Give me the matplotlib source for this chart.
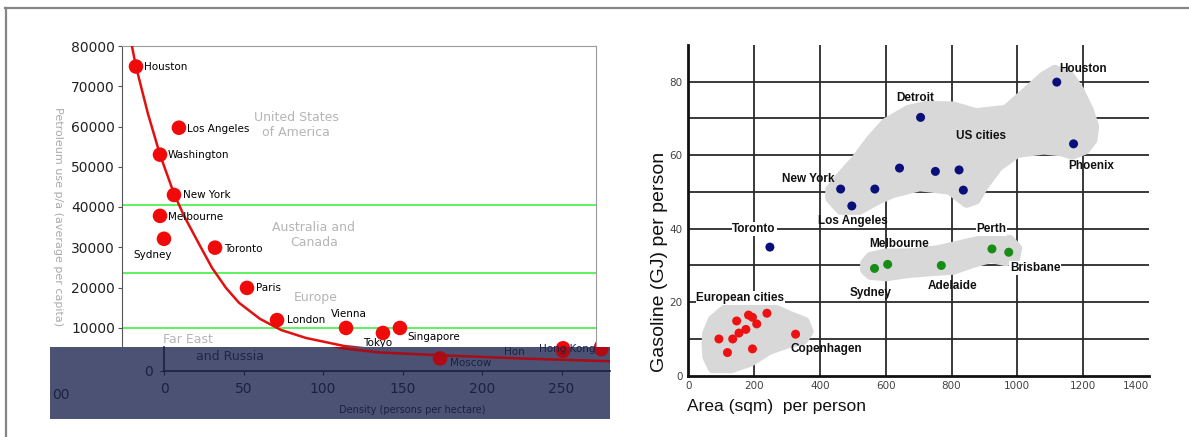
import matplotlib
matplotlib.use("Agg")
import matplotlib.pyplot as plt
from matplotlib.patches import Polygon
from matplotlib.lines import Line2D

W, H = 1189, 437

# ---- left chart: density vs petroleum use ----
city_names = ["Houston", "Los Angeles", "Washington", "New York", "Melbourne", "Sydney",
              "Toronto", "Paris", "London", "Vienna", "Tokyo", "Singapore", "Moscow"]
density = [-17.6, 9.4, -2.5, 6.3, -2.5, 0.0, 32.1, 52.2, 71.1, 114.5, 137.7, 148.4, 173.6]
petrol = [74900, 59700, 53000, 43000, 37800, 32100, 29900, 19900, 11900, 9950, 8700, 9950, 3000]

hk_names = ["Hon", "Hong Kong"]
hk_density = [251, 275]
hk_petrol = [4900, 5300]

# fitted trend line
curve_x = [-20.1, -17.6, -10.1, -2.5, 6.3, 12.6, 22.0, 30.2, 39.0, 47.2, 60.4, 73.6, 89.3,
           113.2, 135.8, 173.6, 223.9, 280.5]
curve_y = [79850, 74900, 63200, 53000, 43300, 37800, 30850, 24900, 19900, 16200, 12200, 9450,
           7460, 5470, 4480, 3800, 3000, 2300]

band_lines = [40500, 23500, 10000]
left_yticks = [0, 10000, 20000, 30000, 40000, 50000, 60000, 70000, 80000]
left_xticks = [0, 50, 100, 150, 200, 250]

# ---- right chart: area vs gasoline ----
us_x = [1120, 706, 1171, 642, 751, 823, 836, 463, 567, 497, 248]
us_y = [79.9, 70.3, 63.1, 56.5, 55.6, 56.0, 50.5, 50.8, 50.8, 46.2, 35.0]
aus_x = [566, 606, 769, 923, 974]
aus_y = [29.2, 30.3, 30.0, 34.5, 33.6]
eu_x = [93, 119, 135, 147, 154, 175, 183, 195, 208, 195, 239, 326]
eu_y = [10.0, 6.3, 10.0, 14.9, 11.6, 12.6, 16.5, 15.9, 14.1, 7.3, 17.0, 11.3]

us_blob_x = [431, 463, 520, 577, 623, 703, 794, 846, 874, 897, 943, 1000, 1080, 1137, 1166,
             1206, 1229, 1234, 1217, 1188, 1160, 1114, 1080, 1034, 1000, 966, 874, 806, 726,
             669, 600, 554, 509, 463, 431]
us_blob_y = [48.3, 45.1, 45.1, 47.9, 49.7, 51.5, 50.6, 47.0, 47.9, 51.5, 57.0, 60.6, 61.5, 61.0,
             60.1, 61.5, 64.2, 67.9, 72.4, 77.8, 81.5, 83.3, 81.5, 77.8, 75.1, 72.4, 71.5, 73.3,
             73.5, 72.4, 68.8, 64.2, 58.8, 54.2, 50.6]
aus_blob_x = [537, 554, 600, 669, 760, 851, 920, 977, 1000, 994, 966, 920, 863, 806, 737, 669,
              600, 554, 537]
aus_blob_y = [30.6, 32.4, 33.3, 33.3, 34.2, 36.1, 37.4, 37.0, 34.7, 32.0, 31.1, 32.0, 30.6, 28.8,
              28.4, 27.9, 27.0, 27.4, 28.8]
eu_blob_x = [57, 74, 109, 166, 234, 303, 354, 366, 349, 303, 246, 189, 131, 74, 57, 55]
eu_blob_y = [11.5, 15.2, 17.9, 19.7, 19.3, 16.5, 14.7, 12.0, 9.7, 8.8, 7.0, 3.8, 2.0, 2.0, 5.2, 8.8]

right_labels = [("Houston", 1200, 83.6), ("Detroit", 691, 75.7), ("US cities", 891, 65.1),
                ("Phoenix", 1226, 57.0), ("New York", 364, 53.6), ("Los Angeles", 499, 42.2),
                ("Toronto", 200, 39.9), ("Melbourne", 640, 35.8), ("Perth", 922, 39.9),
                ("Brisbane", 1054, 29.3), ("Adelaide", 802, 24.5), ("Sydney", 554, 22.6),
                ("European cities", 158, 21.1), ("Copenhagen", 418, 7.3)]


def box(l, t, r, b):
    # pixel box -> figure fraction rect
    return [l / W, 1 - b / H, (r - l) / W, (b - t) / H]


fig = plt.figure(figsize=(W / 100, H / 100), dpi=100)
fig.patch.set_facecolor("white")

# slide frame
fig.add_artist(Line2D([5 / W, 1], [1 - 7.5 / H] * 2, color="#858585", lw=1.6))
fig.add_artist(Line2D([6 / W] * 2, [0, 1 - 7.5 / H], color="#858585", lw=1.6))

# ---------------- left chart ----------------
ax = fig.add_axes(box(122, 46, 596, 368))
ax.set_xlim(-26.4, 271.7)
ax.set_ylim(0, 80000)
for s in ["top", "right"]:
    ax.spines[s].set_color("#9a9a9a")
ax.spines["left"].set_color("#555555")
ax.spines["bottom"].set_visible(False)
ax.set_xticks([])
ax.set_yticks(left_yticks)
ax.tick_params(axis="y", labelsize=10, labelcolor="#222222", color="#555555", length=3, pad=2)
for yv in band_lines:
    ax.axhline(yv, color="#33ee33", lw=1.1, zorder=1)
ax.plot(curve_x, curve_y, color="#e31010", lw=1.8, zorder=3, solid_joinstyle="round")
ax.scatter(density + hk_density, petrol + hk_petrol, s=110, color="#f00a0a", zorder=4,
           edgecolors="none")
ax.set_ylabel("Petroleum use p/a (average per capita)", color="#aaaaaa", fontsize=8,
              rotation=270, va="center", ha="center")
ax.yaxis.set_label_coords(-0.136, 0.47)

offsets = {"Houston": (8, 0, "left"), "Los Angeles": (8, -1, "left"),
           "Washington": (8, 0, "left"), "New York": (9, 0, "left"),
           "Melbourne": (8, -1, "left"), "Sydney": (-11, -16, "center"),
           "Toronto": (9, -1, "left"), "Paris": (9, 0, "left"), "London": (10, 0, "left"),
           "Vienna": (3, 14, "center"), "Tokyo": (-5, -10, "center"),
           "Singapore": (7, -9, "left")}
for name, xv, yv in zip(city_names, density, petrol):
    if name in offsets:
        dx, dy, ha = offsets[name]
        ax.annotate(name, (xv, yv), xytext=(dx, dy), textcoords="offset pixels",
                    ha=ha, va="center", fontsize=7.5, color="black", zorder=5)

region_style = dict(color="#b5b5b5", fontsize=9, ha="center", va="center", linespacing=1.25)
ax.text(83, 60400, "United States\nof America", **region_style)
ax.text(94.3, 33100, "Australia and\nCanada", **region_style)
ax.text(95.6, 17400, "Europe", **region_style)
ax.text(15, 7000, "Far East", **region_style)

# dark strip pasted over the bottom of the left chart
ov = fig.add_axes(box(50, 347, 610, 419))
ov.set_zorder(5)
ov.set_facecolor("#4b5273")
ov.set_xlim(-71.7, 280.5)
ov.set_ylim(-12065, 5846)
dark = "#1c2140"
for s in ["top", "right"]:
    ov.spines[s].set_visible(False)
ov.spines["left"].set_position(("data", 0))
ov.spines["left"].set_bounds(0, 5846)
ov.spines["bottom"].set_position(("data", 0))
ov.spines["bottom"].set_bounds(0, 280.5)
for s in ["left", "bottom"]:
    ov.spines[s].set_color(dark)
    ov.spines[s].set_linewidth(1.2)
ov.set_xticks(left_xticks)
ov.set_yticks([0])
ov.tick_params(labelsize=10, labelcolor=dark, color=dark, length=3, pad=5)
ov.plot(curve_x, curve_y, color="#a80c16", lw=1.8, solid_joinstyle="round")
ov.scatter(density + hk_density, petrol + hk_petrol, s=110, color="#b00a14", edgecolors="none")
ov.annotate("Moscow", (density[-1], petrol[-1]), xytext=(10, -5), textcoords="offset pixels",
            ha="left", va="center", fontsize=7.5, color=dark)
ov.annotate(hk_names[0], (hk_density[0], hk_petrol[0]), xytext=(-38, -1),
            textcoords="offset pixels", ha="right", va="center", fontsize=7.5, color=dark)
ov.annotate(hk_names[1], (hk_density[1], hk_petrol[1]), xytext=(-34, 0),
            textcoords="offset pixels", ha="center", va="center", fontsize=7.5, color=dark)
ov.text(41.5, 3360, "and Russia", color="#1f2545", fontsize=9, ha="center", va="center")
ov.text(0.646, 0.125, "Density (persons per hectare)", transform=ov.transAxes,
        ha="center", va="center", fontsize=7, color=dark)
ov.text(-70.5, -6000, "00", ha="left", va="center", fontsize=10, color=dark)

# ---------------- right chart ----------------
rx = fig.add_axes(box(688.3, 45, 1148.9, 375.7))
rx.set_xlim(0, 1400)
rx.set_ylim(0, 90)
for s in ["top", "right"]:
    rx.spines[s].set_visible(False)
for s in ["left", "bottom"]:
    rx.spines[s].set_linewidth(2)
    rx.spines[s].set_color("#111111")
rx.set_xticks(range(0, 1401, 200))
rx.set_yticks(range(0, 81, 20))
rx.tick_params(which="both", length=0, labelsize=7.5, labelcolor="#444444", pad=4)
rx.get_xticklabels()[-1].set_horizontalalignment("right")
for xv in range(200, 1201, 200):
    rx.axvline(xv, color="#2a2a2a", lw=1.3, zorder=1)
for yv in range(10, 81, 10):
    rx.axhline(yv, color="#2a2a2a", lw=1.3, zorder=1)

for bx, by in [(us_blob_x, us_blob_y), (aus_blob_x, aus_blob_y), (eu_blob_x, eu_blob_y)]:
    rx.add_patch(Polygon(list(zip(bx, by)), closed=True, facecolor="#d8d8d8",
                         edgecolor="#d8d8d8", lw=7, joinstyle="round", zorder=2))

rx.scatter(us_x, us_y, s=42, color="#0b0f7c", zorder=4, edgecolors="none")
rx.scatter(aus_x, aus_y, s=42, color="#178c17", zorder=4, edgecolors="none")
rx.scatter(eu_x, eu_y, s=42, color="#ee1111", zorder=4, edgecolors="none")

for name, xv, yv in right_labels:
    t = rx.text(xv, yv, name, ha="center", va="center", fontsize=8.5, fontweight="bold",
                family="Liberation Sans", color="#111111", zorder=5)
    if name in ("Toronto", "Perth", "Brisbane", "European cities"):
        t.set_bbox(dict(facecolor="white", edgecolor="none", pad=0.5))

fig.text(660 / W, 1 - 262 / H, "Gasoline (GJ) per person", rotation=90, ha="center",
         va="center", fontsize=14, color="#111111", family="Liberation Sans")
fig.text(687 / W, 1 - 407 / H, "Area (sqm)  per person", ha="left", va="center",
         fontsize=12.5, color="#111111", family="Liberation Sans")

fig.savefig("out.png", dpi=100)
